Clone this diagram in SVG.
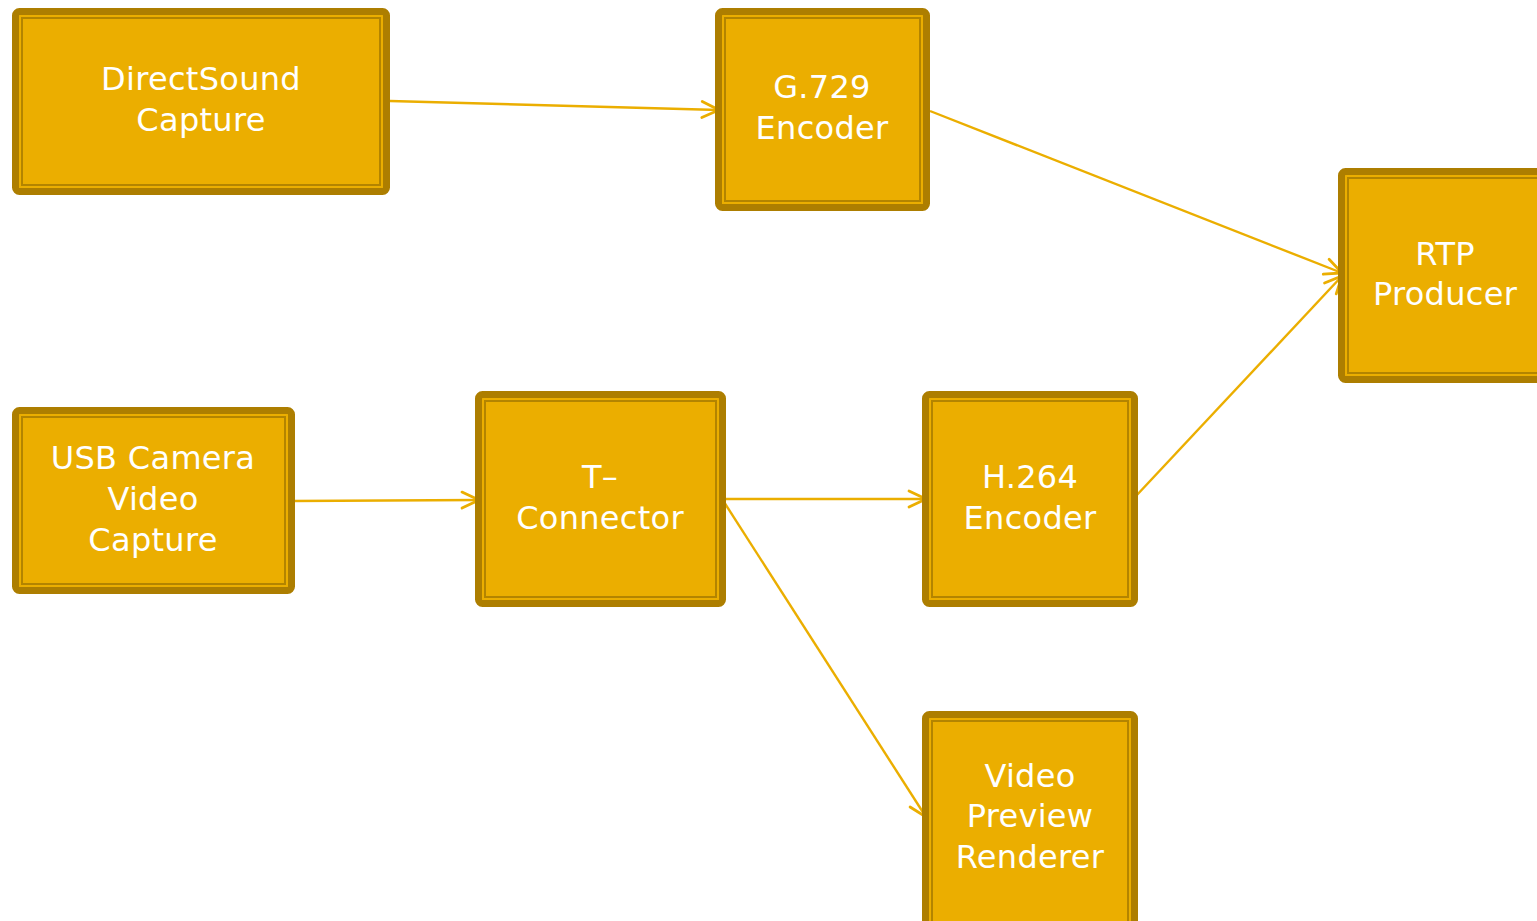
<svg xmlns="http://www.w3.org/2000/svg" width="1537" height="921" viewBox="0 0 1537 921">
<style>
.outer{fill:#EBAE00;stroke:#AD7E00;stroke-width:7}
.inner{fill:none;stroke:#B38400;stroke-width:2}
.lbl{fill:#FFFFFF;font-family:"DejaVu Sans","Liberation Sans",sans-serif;font-size:32px;letter-spacing:0.3px;text-anchor:middle}
.conn{fill:none;stroke:#EBAE00;stroke-width:2.4}
</style>
<defs>
<marker id="arr" markerUnits="userSpaceOnUse" markerWidth="24" markerHeight="22" refX="20" refY="11" orient="auto" viewBox="0 0 24 22">
<path d="M3,3 L20,11 L3,19" fill="none" stroke="#EBAE00" stroke-width="2.8" stroke-linecap="round"/>
</marker>
</defs>
<rect width="1537" height="921" fill="#FFFFFF"/>
<g id="connectors">
<line class="conn" x1="390" y1="101" x2="719" y2="110" marker-end="url(#arr)"/>
<line class="conn" x1="930" y1="111" x2="1342" y2="273" marker-end="url(#arr)"/>
<line class="conn" x1="292" y1="501" x2="479" y2="500" marker-end="url(#arr)"/>
<line class="conn" x1="724" y1="499" x2="926" y2="499" marker-end="url(#arr)"/>
<line class="conn" x1="724" y1="502" x2="926" y2="817" marker-end="url(#arr)"/>
<line class="conn" x1="1136" y1="496" x2="1342" y2="276" marker-end="url(#arr)"/>
</g>
<g id="directsound">
<rect class="outer" x="15.5" y="11.5" width="371" height="180" rx="4"/>
<rect class="inner" x="22" y="18" width="358" height="167"/>
<text class="lbl" x="201" y="90">DirectSound</text>
<text class="lbl" x="201" y="131">Capture</text>
</g>
<g id="g729">
<rect class="outer" x="718.5" y="11.5" width="208" height="196" rx="4"/>
<rect class="inner" x="725" y="18" width="195" height="183"/>
<text class="lbl" x="822" y="98">G.729</text>
<text class="lbl" x="822" y="139">Encoder</text>
</g>
<g id="rtp">
<rect class="outer" x="1341.5" y="171.5" width="210" height="208" rx="4"/>
<rect class="inner" x="1348" y="178" width="200" height="195"/>
<text class="lbl" x="1445" y="265">RTP</text>
<text class="lbl" x="1445" y="305">Producer</text>
</g>
<g id="usbcamera">
<rect class="outer" x="15.5" y="410.5" width="276" height="180" rx="4"/>
<rect class="inner" x="22" y="417" width="263" height="167"/>
<text class="lbl" x="153" y="469">USB Camera</text>
<text class="lbl" x="153" y="510">Video</text>
<text class="lbl" x="153" y="551">Capture</text>
</g>
<g id="tconnector">
<rect class="outer" x="478.5" y="394.5" width="244" height="209" rx="4"/>
<rect class="inner" x="485" y="401" width="231" height="196"/>
<text class="lbl" x="600" y="488">T–</text>
<text class="lbl" x="600" y="529">Connector</text>
</g>
<g id="h264">
<rect class="outer" x="925.5" y="394.5" width="209" height="209" rx="4"/>
<rect class="inner" x="932" y="401" width="196" height="196"/>
<text class="lbl" x="1030" y="488">H.264</text>
<text class="lbl" x="1030" y="529">Encoder</text>
</g>
<g id="videopreview">
<rect class="outer" x="925.5" y="714.5" width="209" height="220" rx="4"/>
<rect class="inner" x="932" y="721" width="196" height="207"/>
<text class="lbl" x="1030" y="787">Video</text>
<text class="lbl" x="1030" y="827">Preview</text>
<text class="lbl" x="1030" y="868">Renderer</text>
</g>
</svg>
